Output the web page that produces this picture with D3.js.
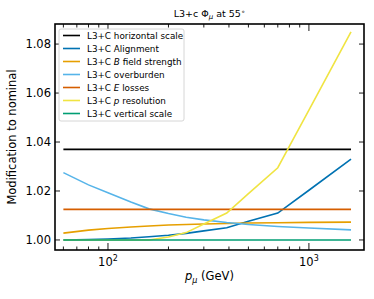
<!DOCTYPE html>
<html>
<head>
<meta charset="utf-8">
<script src="https://cdn.jsdelivr.net/npm/d3@7"></script>
<style>
  body { margin: 0; background: #fff; }
  text { font-family: "DejaVu Sans", sans-serif; }
</style>
</head>
<body>
<div id="chart"></div>
<script>
// momentum grid (GeV)
const energies = [60, 80, 100, 130, 160, 200, 245, 300, 390, 500, 700, 1000, 1620];

const horizontalScale = [1.037, 1.037, 1.037, 1.037, 1.037, 1.037, 1.037, 1.037, 1.037, 1.037, 1.037, 1.037, 1.037];
const alignment      = [1.0000, 1.0002, 1.0004, 1.0008, 1.0013, 1.0019, 1.0027, 1.0037, 1.0050, 1.0076, 1.0110, 1.0203, 1.0330];
const bField         = [1.0028, 1.0040, 1.0047, 1.0053, 1.0057, 1.0061, 1.0063, 1.0065, 1.0067, 1.0069, 1.0070, 1.0072, 1.0073];
const overburden     = [1.0275, 1.0225, 1.0193, 1.0155, 1.0127, 1.0108, 1.0093, 1.0082, 1.0071, 1.0063, 1.0055, 1.0049, 1.0041];
const eLosses        = [1.0125, 1.0125, 1.0125, 1.0125, 1.0125, 1.0125, 1.0125, 1.0125, 1.0125, 1.0125, 1.0125, 1.0125, 1.0125];
const pResolution    = [1.0000, 1.0000, 1.0000, 1.0000, 1.0000, 1.0012, 1.0030, 1.0065, 1.0110, 1.0189, 1.0295, 1.0530, 1.0850];
const verticalScale  = [1.000, 1.000, 1.000, 1.000, 1.000, 1.000, 1.000, 1.000, 1.000, 1.000, 1.000, 1.000, 1.000];

const yTicks = [1.00, 1.02, 1.04, 1.06, 1.08];
const xMajor = [100, 1000];

const series = [
    {name: "horizontal scale", it: "", values: horizontalScale, color: "#000000"},
    {name: "Alignment", it: "", values: alignment, color: "#0072B2"},
    {name: " field strength", it: "B", values: bField, color: "#E69F00"},
    {name: "overburden", it: "", values: overburden, color: "#56B4E9"},
    {name: " losses", it: "E", values: eLosses, color: "#D55E00"},
    {name: " resolution", it: "p", values: pResolution, color: "#F0E442"},
    {name: "vertical scale", it: "", values: verticalScale, color: "#009E73"}
];

const W = 374, H = 299;
const margin = {top: 24, right: 10, bottom: 49, left: 55};
const width = W - margin.left - margin.right;
const height = H - margin.top - margin.bottom;

const svg = d3.select("#chart").append("svg")
    .attr("width", W)
    .attr("height", H);

const g = svg.append("g")
    .attr("transform", `translate(${margin.left},${margin.top})`);

const x = d3.scaleLog().domain([54.5, 1880]).range([0, width]);
const y = d3.scaleLinear().domain([0.9959, 1.0882]).range([height, 0]);

// minor ticks for log axis
let xMinor = [];
[10, 100, 1000].forEach(dec => {
    for (let k = 2; k <= 9; k++) {
        let v = dec * k;
        if (v > x.domain()[0] && v < x.domain()[1]) xMinor.push(v);
    }
});

// clip for data lines
g.append("clipPath").attr("id", "clip")
    .append("rect").attr("width", width).attr("height", height);

const line = d3.line()
    .x((d, i) => x(energies[i]))
    .y(d => y(d));

g.append("g").attr("clip-path", "url(#clip)")
    .selectAll("path")
    .data(series)
    .enter()
    .append("path")
    .attr("d", d => line(d.values))
    .attr("fill", "none")
    .attr("stroke", d => d.color)
    .attr("stroke-width", 1.6);

// ticks (inward, mirrored)
const tickG = g.append("g").attr("stroke", "#000").attr("stroke-width", 0.9);
xMajor.forEach(v => {
    tickG.append("line").attr("x1", x(v)).attr("x2", x(v)).attr("y1", height).attr("y2", height - 7);
    tickG.append("line").attr("x1", x(v)).attr("x2", x(v)).attr("y1", 0).attr("y2", 7);
});
xMinor.forEach(v => {
    tickG.append("line").attr("x1", x(v)).attr("x2", x(v)).attr("y1", height).attr("y2", height - 3.5);
    tickG.append("line").attr("x1", x(v)).attr("x2", x(v)).attr("y1", 0).attr("y2", 3.5);
});
yTicks.forEach(v => {
    tickG.append("line").attr("x1", 0).attr("x2", 5).attr("y1", y(v)).attr("y2", y(v));
    tickG.append("line").attr("x1", width).attr("x2", width - 5).attr("y1", y(v)).attr("y2", y(v));
});

// tick labels
g.selectAll(".ylab")
    .data(yTicks)
    .enter()
    .append("text")
    .attr("x", -4)
    .attr("y", d => y(d))
    .attr("dy", "0.36em")
    .attr("text-anchor", "end")
    .attr("font-size", 11.5)
    .text(d => d.toFixed(2));

xMajor.forEach(v => {
    let t = g.append("text")
        .attr("x", x(v))
        .attr("y", height + 16)
        .attr("text-anchor", "middle")
        .attr("font-size", 11.5);
    t.append("tspan").text("10");
    t.append("tspan").attr("dy", -5).attr("font-size", 8).text(Math.log10(v));
});

// frame
g.append("rect")
    .attr("width", width)
    .attr("height", height)
    .attr("fill", "none")
    .attr("stroke", "#000")
    .attr("stroke-width", 1.6);

// axis labels
const xl = svg.append("text")
    .attr("x", margin.left + width / 2)
    .attr("y", 280)
    .attr("text-anchor", "middle")
    .attr("font-size", 11.5);
xl.append("tspan").attr("font-style", "italic").text("p");
xl.append("tspan").attr("font-style", "italic").attr("font-size", 8).attr("dy", 3).text("μ");
xl.append("tspan").attr("dy", -3).text(" (GeV)");

svg.append("text")
    .attr("transform", `translate(16,${margin.top + height / 2}) rotate(-90)`)
    .attr("text-anchor", "middle")
    .attr("font-size", 11.5)
    .text("Modification to nominal");

// title
const tt = svg.append("text")
    .attr("x", margin.left + width / 2)
    .attr("y", 17)
    .attr("text-anchor", "middle")
    .attr("font-size", 9.5);
tt.append("tspan").text("L3+c Φ");
tt.append("tspan").attr("font-style", "italic").attr("font-size", 7).attr("dy", 2).text("μ");
tt.append("tspan").attr("dy", -2).text(" at 55");
tt.append("tspan").attr("font-size", 7).attr("dy", -3).text("∘");

// legend
const leg = g.append("g").attr("transform", "translate(4,5)");
leg.append("rect")
    .attr("width", 125)
    .attr("height", 92)
    .attr("rx", 2)
    .attr("fill", "#fff")
    .attr("stroke", "#ccc")
    .attr("stroke-width", 0.8);

series.forEach((s, i) => {
    let yy = 6.5 + i * 13;
    leg.append("line")
        .attr("x1", 4).attr("x2", 21)
        .attr("y1", yy).attr("y2", yy)
        .attr("stroke", s.color)
        .attr("stroke-width", 1.6);
    let t = leg.append("text")
        .attr("x", 28)
        .attr("y", yy)
        .attr("dy", "0.35em")
        .attr("font-size", 8.8)
        .text("L3+C ");
    if (s.it) t.append("tspan").attr("font-style", "italic").text(s.it);
    t.append("tspan").text(s.name);
});
</script>
</body>
</html>
